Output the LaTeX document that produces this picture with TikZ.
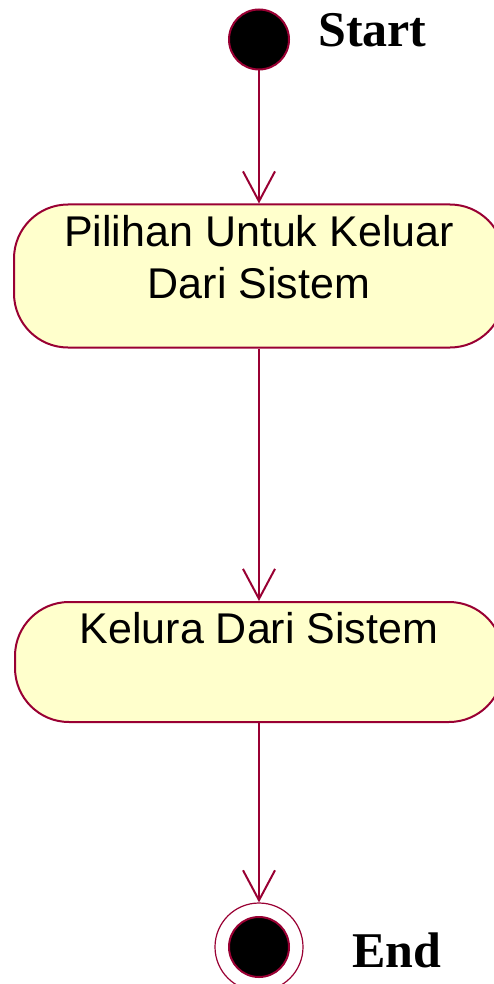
\documentclass[tikz,border=0pt]{standalone}
\usepackage{fontspec}
\setmainfont{Liberation Serif}
\newfontfamily\actfont{Liberation Sans}
\usetikzlibrary{arrows.meta}
\definecolor{rose}{RGB}{153,0,51}
\definecolor{actfill}{RGB}{255,255,204}
\tikzset{
  flow/.style={draw=rose, line width=2pt, -{Straight Barb[length=30pt,width=32pt,line width=2pt]}},
  act/.style={draw=rose, fill=actfill, line width=2pt, rounded corners=54pt, inner sep=0pt},
  acttext/.style={anchor=north, inner sep=0pt, align=center, font=\actfont\fontsize{43}{52}\selectfont},
  dot/.style={circle, draw=rose, fill=black, line width=2pt, minimum size=60pt, inner sep=0pt},
  tag/.style={anchor=base west, inner sep=0pt, font=\bfseries\fontsize{50}{60}\selectfont}
}

\begin{document}
\begin{tikzpicture}
 \begin{scope}[x=1pt,y=1pt]
\useasboundingbox (0,0) rectangle (494,-984);
\node[dot] (start) at (259,-39.5) {};
\node[tag] (starttag) at (318,-47) {Start};
\node[act, minimum width=490pt, minimum height=143pt] (pilihan) at (259,-276) {};
\node[acttext] (pilihantext) at (259,-215) {Pilihan Untuk Keluar\\Dari Sistem};
\node[act, minimum width=488pt, minimum height=120pt] (keluar) at (259,-662) {};
\node[acttext] (keluartext) at (259,-612) {Kelura Dari Sistem};
% end state
\node[circle, draw=rose, line width=1.2pt, minimum size=88pt, inner sep=0pt] (end) at (259,-947) {};
\node[dot] (enddot) at (end) {};
\node[tag] (endtag) at (352,-967) {End};
\draw[flow] (start) -- (pilihan);
\draw[flow] (pilihan) -- (keluar);
\draw[flow] (keluar) -- (end);
 \end{scope}
\end{tikzpicture}
\end{document}
